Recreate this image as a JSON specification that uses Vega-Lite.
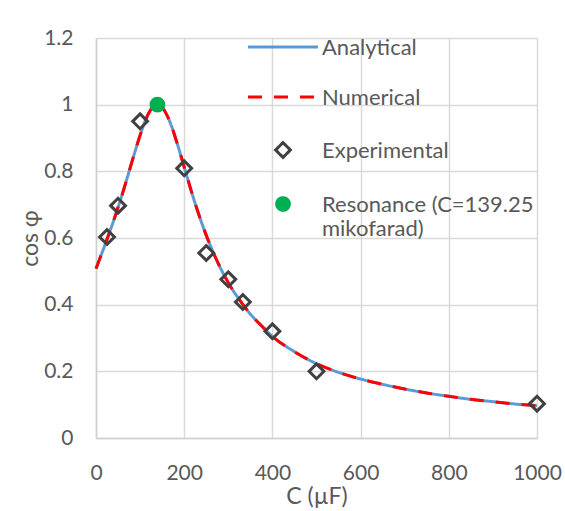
{
  "$schema": "https://vega.github.io/schema/vega-lite/v6.json",
  "width": 441,
  "height": 400,
  "autosize": {"type": "none"},
  "padding": {"left": 96, "top": 38, "right": 28, "bottom": 73},
  "background": "white",
  "datasets": {
    "curve": [
      {"series": "Analytical", "C": 0, "cosphi": 0.508},
      {"series": "Analytical", "C": 10, "cosphi": 0.543},
      {"series": "Analytical", "C": 20, "cosphi": 0.578},
      {"series": "Analytical", "C": 30, "cosphi": 0.615},
      {"series": "Analytical", "C": 40, "cosphi": 0.652},
      {"series": "Analytical", "C": 50, "cosphi": 0.692},
      {"series": "Analytical", "C": 60, "cosphi": 0.733},
      {"series": "Analytical", "C": 70, "cosphi": 0.777},
      {"series": "Analytical", "C": 80, "cosphi": 0.822},
      {"series": "Analytical", "C": 90, "cosphi": 0.866},
      {"series": "Analytical", "C": 100, "cosphi": 0.908},
      {"series": "Analytical", "C": 110, "cosphi": 0.946},
      {"series": "Analytical", "C": 120, "cosphi": 0.976},
      {"series": "Analytical", "C": 130, "cosphi": 0.994},
      {"series": "Analytical", "C": 139.25, "cosphi": 1.0},
      {"series": "Analytical", "C": 150, "cosphi": 0.992},
      {"series": "Analytical", "C": 160, "cosphi": 0.971},
      {"series": "Analytical", "C": 170, "cosphi": 0.94},
      {"series": "Analytical", "C": 180, "cosphi": 0.901},
      {"series": "Analytical", "C": 190, "cosphi": 0.858},
      {"series": "Analytical", "C": 200, "cosphi": 0.813},
      {"series": "Analytical", "C": 220, "cosphi": 0.724},
      {"series": "Analytical", "C": 240, "cosphi": 0.644},
      {"series": "Analytical", "C": 260, "cosphi": 0.575},
      {"series": "Analytical", "C": 280, "cosphi": 0.516},
      {"series": "Analytical", "C": 300, "cosphi": 0.466},
      {"series": "Analytical", "C": 325, "cosphi": 0.415},
      {"series": "Analytical", "C": 350, "cosphi": 0.372},
      {"series": "Analytical", "C": 375, "cosphi": 0.337},
      {"series": "Analytical", "C": 400, "cosphi": 0.305},
      {"series": "Analytical", "C": 450, "cosphi": 0.259},
      {"series": "Analytical", "C": 500, "cosphi": 0.223},
      {"series": "Analytical", "C": 550, "cosphi": 0.197},
      {"series": "Analytical", "C": 600, "cosphi": 0.177},
      {"series": "Analytical", "C": 650, "cosphi": 0.161},
      {"series": "Analytical", "C": 700, "cosphi": 0.147},
      {"series": "Analytical", "C": 750, "cosphi": 0.135},
      {"series": "Analytical", "C": 800, "cosphi": 0.125},
      {"series": "Analytical", "C": 850, "cosphi": 0.116},
      {"series": "Analytical", "C": 900, "cosphi": 0.109},
      {"series": "Analytical", "C": 950, "cosphi": 0.102},
      {"series": "Analytical", "C": 1000, "cosphi": 0.097},
      {"series": "Numerical", "C": 0, "cosphi": 0.508},
      {"series": "Numerical", "C": 10, "cosphi": 0.543},
      {"series": "Numerical", "C": 20, "cosphi": 0.578},
      {"series": "Numerical", "C": 30, "cosphi": 0.615},
      {"series": "Numerical", "C": 40, "cosphi": 0.652},
      {"series": "Numerical", "C": 50, "cosphi": 0.692},
      {"series": "Numerical", "C": 60, "cosphi": 0.733},
      {"series": "Numerical", "C": 70, "cosphi": 0.777},
      {"series": "Numerical", "C": 80, "cosphi": 0.822},
      {"series": "Numerical", "C": 90, "cosphi": 0.866},
      {"series": "Numerical", "C": 100, "cosphi": 0.908},
      {"series": "Numerical", "C": 110, "cosphi": 0.946},
      {"series": "Numerical", "C": 120, "cosphi": 0.976},
      {"series": "Numerical", "C": 130, "cosphi": 0.994},
      {"series": "Numerical", "C": 139.25, "cosphi": 1.0},
      {"series": "Numerical", "C": 150, "cosphi": 0.992},
      {"series": "Numerical", "C": 160, "cosphi": 0.971},
      {"series": "Numerical", "C": 170, "cosphi": 0.94},
      {"series": "Numerical", "C": 180, "cosphi": 0.901},
      {"series": "Numerical", "C": 190, "cosphi": 0.858},
      {"series": "Numerical", "C": 200, "cosphi": 0.813},
      {"series": "Numerical", "C": 220, "cosphi": 0.724},
      {"series": "Numerical", "C": 240, "cosphi": 0.644},
      {"series": "Numerical", "C": 260, "cosphi": 0.575},
      {"series": "Numerical", "C": 280, "cosphi": 0.516},
      {"series": "Numerical", "C": 300, "cosphi": 0.466},
      {"series": "Numerical", "C": 325, "cosphi": 0.415},
      {"series": "Numerical", "C": 350, "cosphi": 0.372},
      {"series": "Numerical", "C": 375, "cosphi": 0.337},
      {"series": "Numerical", "C": 400, "cosphi": 0.305},
      {"series": "Numerical", "C": 450, "cosphi": 0.259},
      {"series": "Numerical", "C": 500, "cosphi": 0.223},
      {"series": "Numerical", "C": 550, "cosphi": 0.197},
      {"series": "Numerical", "C": 600, "cosphi": 0.177},
      {"series": "Numerical", "C": 650, "cosphi": 0.161},
      {"series": "Numerical", "C": 700, "cosphi": 0.147},
      {"series": "Numerical", "C": 750, "cosphi": 0.135},
      {"series": "Numerical", "C": 800, "cosphi": 0.125},
      {"series": "Numerical", "C": 850, "cosphi": 0.116},
      {"series": "Numerical", "C": 900, "cosphi": 0.109},
      {"series": "Numerical", "C": 950, "cosphi": 0.102},
      {"series": "Numerical", "C": 1000, "cosphi": 0.097}
    ],
    "points": [
      {"series": "Experimental", "C": 25, "cosphi": 0.603},
      {"series": "Experimental", "C": 50, "cosphi": 0.697},
      {"series": "Experimental", "C": 100, "cosphi": 0.95},
      {"series": "Experimental", "C": 200, "cosphi": 0.809},
      {"series": "Experimental", "C": 250, "cosphi": 0.555},
      {"series": "Experimental", "C": 300, "cosphi": 0.476},
      {"series": "Experimental", "C": 333, "cosphi": 0.408},
      {"series": "Experimental", "C": 400, "cosphi": 0.32},
      {"series": "Experimental", "C": 500, "cosphi": 0.2},
      {"series": "Experimental", "C": 1000, "cosphi": 0.103},
      {"series": "Resonance (C=139.25 mikofarad)", "C": 139.25, "cosphi": 1.0}
    ]
  },
  "layer": [
    {
      "data": {"name": "curve"},
      "mark": {"type": "line", "strokeWidth": 3, "interpolate": "monotone", "strokeCap": "butt"},
      "encoding": {
        "x": {
          "field": "C", "type": "quantitative",
          "scale": {"domain": [0, 1000], "nice": false, "zero": false},
          "axis": {"values": [0, 200, 400, 600, 800, 1000], "format": "d", "labelPadding": 24, "titlePadding": 2, "grid": true},
          "title": "C (µF)"
        },
        "y": {
          "field": "cosphi", "type": "quantitative",
          "scale": {"domain": [0, 1.2], "nice": false},
          "axis": {"values": [0, 0.2, 0.4, 0.6, 0.8, 1, 1.2], "format": "~g", "labelPadding": 23, "titlePadding": 1, "grid": true},
          "title": "cos φ"
        },
        "stroke": {
          "field": "series", "type": "nominal", "title": null,
          "scale": {"domain": ["Analytical", "Numerical", "Experimental", "Resonance (C=139.25 mikofarad)"], "range": ["#5B9BD5", "#FF0000", "#404040", "#00B050"]},
          "legend": {"labelExpr": "datum.label == 'Resonance (C=139.25 mikofarad)' ? ['Resonance (C=139.25', 'mikofarad)'] : datum.label", "encode": {"labels": {"update": {"dy": {"value": -9}}}}}
        },
        "strokeDash": {
          "field": "series", "type": "nominal", "title": null,
          "scale": {"domain": ["Analytical", "Numerical", "Experimental", "Resonance (C=139.25 mikofarad)"], "range": [[1, 0], [14, 12], [1, 0], [1, 0]]},
          "legend": {"labelExpr": "datum.label == 'Resonance (C=139.25 mikofarad)' ? ['Resonance (C=139.25', 'mikofarad)'] : datum.label", "encode": {"labels": {"update": {"dy": {"value": -9}}}}}
        }
      }
    },
    {
      "data": {"name": "points"},
      "mark": {"type": "point", "strokeWidth": 3, "opacity": 1},
      "encoding": {
        "x": {"field": "C", "type": "quantitative"},
        "y": {"field": "cosphi", "type": "quantitative"},
        "stroke": {
          "field": "series", "type": "nominal", "title": null,
          "scale": {"domain": ["Analytical", "Numerical", "Experimental", "Resonance (C=139.25 mikofarad)"], "range": ["#5B9BD5", "#FF0000", "#404040", "#00B050"]},
          "legend": {"labelExpr": "datum.label == 'Resonance (C=139.25 mikofarad)' ? ['Resonance (C=139.25', 'mikofarad)'] : datum.label", "encode": {"labels": {"update": {"dy": {"value": -9}}}}}
        },
        "fill": {
          "field": "series", "type": "nominal", "title": null,
          "scale": {"domain": ["Analytical", "Numerical", "Experimental", "Resonance (C=139.25 mikofarad)"], "range": ["transparent", "transparent", "transparent", "#00B050"]},
          "legend": {"labelExpr": "datum.label == 'Resonance (C=139.25 mikofarad)' ? ['Resonance (C=139.25', 'mikofarad)'] : datum.label", "encode": {"labels": {"update": {"dy": {"value": -9}}}}}
        },
        "shape": {
          "field": "series", "type": "nominal", "title": null,
          "scale": {"domain": ["Analytical", "Numerical", "Experimental", "Resonance (C=139.25 mikofarad)"], "range": ["M-5.37,0L5.37,0", "M-5.37,0L5.37,0", "diamond", "circle"]},
          "legend": {"labelExpr": "datum.label == 'Resonance (C=139.25 mikofarad)' ? ['Resonance (C=139.25', 'mikofarad)'] : datum.label", "encode": {"labels": {"update": {"dy": {"value": -9}}}}}
        },
        "size": {
          "field": "series", "type": "nominal", "legend": null,
          "scale": {"type": "ordinal", "domain": ["Analytical", "Numerical", "Experimental", "Resonance (C=139.25 mikofarad)"], "range": [170, 170, 220, 161]}
        }
      }
    }
  ],
  "config": {
    "view": {"stroke": null},
    "axis": {
      "ticks": false, "tickSize": 0,
      "domainColor": "#D0D0D0", "domainWidth": 1.5,
      "gridColor": "#D9D9D9", "gridWidth": 1.5,
      "labelFont": "Lato", "labelFontSize": 21, "labelColor": "#595959",
      "titleFont": "Lato", "titleFontSize": 23, "titleFontWeight": "normal", "titleColor": "#595959",
      "labelFlush": false, "labelOverlap": false
    },
    "legend": {
      "orient": "none", "legendX": 176, "legendY": -2, "padding": 0,
      "labelFont": "Lato", "labelFontSize": 22, "labelColor": "#595959",
      "labelOffset": 28, "labelBaseline": "top", "labelLimit": 400, "labelLineHeight": 28,
      "symbolSize": 170, "symbolStrokeWidth": 3, "rowPadding": 27, "symbolOpacity": 1
    }
  }
}
